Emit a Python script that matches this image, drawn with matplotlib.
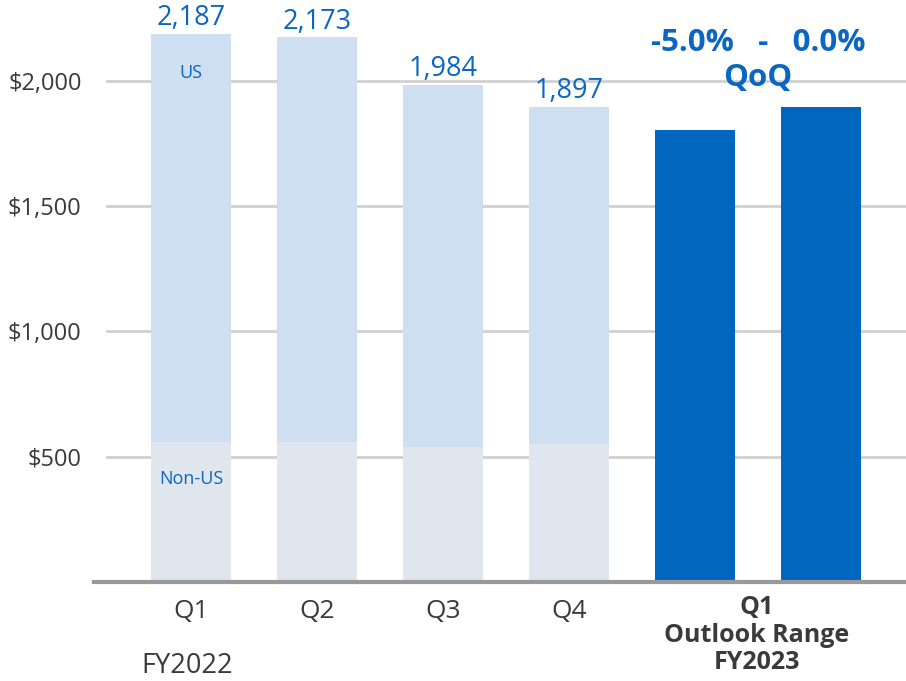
import matplotlib.pyplot as plt

plt.rcParams['font.family'] = ['Open Sans', 'DejaVu Sans']

# data
quarters = ["Q1", "Q2", "Q3", "Q4"]
totals = [2187, 2173, 1984, 1897]
non_us = [560, 560, 540, 550]
us = [t - n for t, n in zip(totals, non_us)]
outlook = [1802, 1897]          # -5.0% .. 0.0% QoQ on 1,897
yticks = [500, 1000, 1500, 2000]
ytick_labels = ["$500", "$1,000", "$1,500", "$2,000"]

c_us = "#cddff0"
c_nonus = "#e0e6ee"
c_out = "#0066bf"
c_lab = "#0a66c2"
c_txt = "#3a3a3a"

fig = plt.figure(figsize=(9.06, 6.81), dpi=100)
ax = fig.add_axes([94 / 906, 1 - 582 / 681, 812 / 906, 572 / 681])

x_hist = list(range(len(quarters)))
x_out = [4, 5]
w = 0.635

for y in yticks:
    ax.axhline(y, xmin=0.016, xmax=1, color="#d0d0d0", lw=2, zorder=0)

ax.bar(x_hist, non_us, width=w, color=c_nonus, zorder=2)
ax.bar(x_hist, us, bottom=non_us, width=w, color=c_us, zorder=2)
ax.bar(x_out, outlook, width=w, color=c_out, zorder=2)

for x, t in zip(x_hist, totals):
    ax.annotate(f"{t:,}", (x, t), xytext=(0, 1), textcoords="offset points",
                ha="center", va="bottom", fontsize=19.5, color=c_lab,
                annotation_clip=False)

ax.text(0, 2030, "US", ha="center", va="center", fontsize=13, color=c_lab)
ax.text(0, 410, "Non-US", ha="center", va="center", fontsize=13, color=c_lab)

ax.text(4.5, 2150, "-5.0%   -   0.0%", ha="center", va="center",
        fontsize=22.5, fontweight="bold", color=c_lab)
ax.text(4.5, 2010, "QoQ", ha="center", va="center",
        fontsize=22.5, fontweight="bold", color=c_lab)

ax.set_xlim(-0.77, 5.675)
ax.set_ylim(0, 2282)
ax.set_yticks(yticks)
ax.set_yticklabels(ytick_labels, fontsize=17, color=c_txt)
ax.tick_params(axis="y", length=0, pad=9)
ax.set_xticks(x_hist)
ax.set_xticklabels(quarters, fontsize=19, color=c_txt)
ax.tick_params(axis="x", length=0, pad=12)

for s in ["top", "right", "left"]:
    ax.spines[s].set_visible(False)
ax.spines["bottom"].set_color("#999999")
ax.spines["bottom"].set_linewidth(3)
ax.spines["bottom"].set_zorder(3)

fig.text(187 / 906, 1 - 666 / 681, "FY2022", ha="center", va="center",
         fontsize=19.5, color=c_txt)
fig.text(757 / 906, 1 - 635 / 681, "Q1\nOutlook Range\nFY2023", ha="center",
         va="center", fontsize=18, fontweight="bold", color=c_txt,
         linespacing=1.15)

fig.savefig("out.png", dpi=100)
